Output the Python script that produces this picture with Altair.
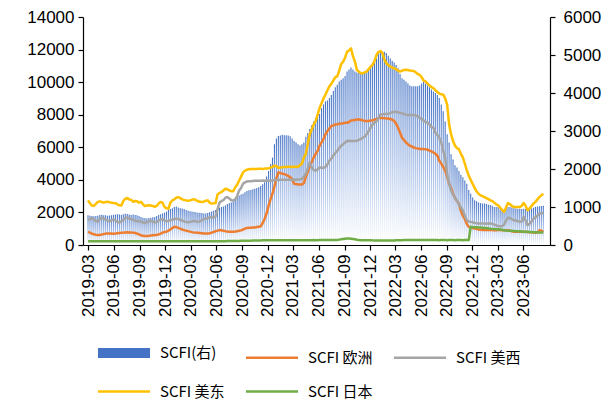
import altair as alt
import pandas as pd

# ---- weekly values (Fridays from 2019-03-01) ----
scfi = [
    # 2019
    780, 770, 760, 755, 765,  770, 790, 795, 785,  780, 770, 775, 785, 795,
    800, 810, 800, 790,  810, 820, 815, 800,  790, 800, 790, 780, 760,
    740, 720, 710, 700,  710, 720, 730, 740,  760, 790, 810, 830, 850,
    880, 920, 950, 970,
    # 2020
    1000, 1010, 990, 970, 960,  950, 920, 900, 890,  880, 870, 860, 850,
    850, 840, 830, 830,  840, 860, 880, 900, 920,  950, 980, 1000, 1010,
    1040, 1080, 1100, 1120, 1150,  1200, 1260, 1300, 1330,  1350, 1390, 1420, 1440,
    1450, 1470, 1480, 1500, 1520,  1550, 1600, 1650, 1800,  1950, 2130, 2300, 2650,
    # 2021
    2800, 2870, 2880, 2900, 2890,  2890, 2880, 2860, 2800,  2740, 2700, 2650, 2620,
    2650, 2700, 2850, 2950, 3050,  3150, 3250, 3350, 3400,  3450, 3600, 3700, 3780,
    3800, 3870, 3950, 4050, 4150,  4220, 4300, 4350, 4390,  4450, 4565, 4620, 4670,
    4620, 4565, 4540, 4530, 4520,  4520, 4550, 4580, 4620,  4650, 4720, 4800, 4910, 5050,
    # 2022
    5105, 5090, 5087, 5050,  4980, 4910, 4850, 4800,  4740, 4650, 4500, 4390,
    4350, 4300, 4250, 4200, 4175,  4175, 4180, 4175, 4200,  4250, 4305, 4250, 4200,
    4150, 4090, 4040, 4000, 3950,  3870, 3700, 3520, 3250,  2915, 2700, 2390, 2250, 2100,
    2040, 1950, 1850, 1780,  1700, 1610, 1450, 1350,  1250, 1175, 1150, 1120, 1100,
    # 2023
    1090, 1090, 1080, 1060,  1050, 1030, 1000, 1000,  1000, 940, 910, 920, 960,
    1000, 1000, 990, 970,  960, 955, 955, 950,  955, 950, 950, 955, 960,
    980, 1000, 1010, 1020,  1025, 1030,
]

europe = [
    # 2019
    810, 760, 700, 660, 630,  610, 620, 640, 670,  700, 710, 710, 700, 690,
    700, 720, 740, 750,  760, 770, 780, 770,  770, 760, 740, 700, 650,
    600, 570, 550, 560,  560, 580, 600, 610,  620, 650, 700, 760, 800,
    820, 880, 960, 1050,
    # 2020
    1115, 1100, 1050, 1000, 950,  915, 880, 850, 820,  790, 770, 760, 750,
    740, 720, 700, 700,  710, 720, 760, 800, 850,  880, 915, 900, 880,
    850, 830, 820, 810, 820,  830, 850, 870, 900,  950, 1000, 1050, 1055,
    1060, 1070, 1080, 1100, 1115,  1150, 1350, 1600, 1950,  2400, 2800, 3150, 3600,
    # 2021
    4100, 4460, 4420, 4380, 4360,  4300, 4250, 4160, 4050,  3760, 3740, 3720, 3710,
    3710, 3800, 4200, 4500, 4800,  5100, 5370, 5600, 5780,  6100, 6300, 6500, 6800,
    7000, 7150, 7305, 7350, 7400,  7420, 7445, 7460, 7480,  7500, 7505, 7550, 7650,
    7660, 7680, 7700, 7710, 7690,  7650, 7620, 7610, 7620,  7640, 7650, 7700, 7750, 7800,
    # 2022
    7810, 7800, 7790, 7770,  7770, 7740, 7700, 7610,  7450, 7200, 6900, 6590,
    6450, 6300, 6190, 6100, 6050,  5985, 5950, 5920, 5900,  5900, 5890, 5885, 5850,
    5800, 5750, 5680, 5600, 5500,  5175, 5000, 4800, 4565,  4200, 3755, 3500, 3145, 2900,
    2700, 2540, 2100, 1800,  1600, 1300, 1115, 1080,  1040, 1015, 990, 950, 930,
    # 2023
    920, 915, 915, 915,  915, 915, 910, 910,  915, 915, 910, 905, 900,
    900, 880, 840, 820,  810, 810, 810, 810,  810, 800, 800, 790, 780,
    770, 750, 760, 900,  880, 810,
]

us_west = [
    # 2019
    1520, 1600, 1650, 1560, 1480,  1430, 1600, 1680, 1620,  1560, 1500, 1450, 1520, 1580,
    1500, 1420, 1380, 1450,  1550, 1650, 1700, 1620,  1600, 1550, 1500, 1450, 1480,
    1420, 1380, 1350, 1400,  1450, 1500, 1450, 1380,  1420, 1500, 1560, 1600, 1500,
    1450, 1480, 1520, 1560,
    # 2020
    1600, 1620, 1600, 1550, 1500,  1450, 1420, 1400, 1420,  1450, 1480, 1450, 1420,
    1450, 1520, 1600, 1620,  1650, 1700, 1720, 1700, 1750,  2200, 2600, 2700, 2750,
    2900, 2940, 2850, 2750, 2740,  2800, 3000, 3350, 3500,  3760, 3850, 3900, 3915,
    3920, 3930, 3940, 3950, 3950,  3950, 3960, 3950, 3960,  3960, 3950, 3960, 3970,
    # 2021
    3980, 3990, 4000, 4000, 4010,  4010, 4000, 4020, 4010,  4020, 4010, 4020, 4030,
    4050, 4200, 4400, 4700, 5070,  4800, 4600, 4565, 4650,  4770, 4750, 4730, 4800,
    4950, 5175, 5300, 5500, 5650,  5780, 5950, 6100, 6190,  6300, 6390, 6400, 6390,
    6390, 6380, 6400, 6450, 6500,  6590, 6650, 6800, 7000,  7200, 7410, 7500, 7610, 7800,
    # 2022
    8015, 8020, 8040, 8050,  8055, 8100, 8150, 8175,  8175, 8150, 8115, 8080,
    8050, 8000, 7975, 7975, 7980,  7975, 7950, 7900, 7810,  7750, 7650, 7550, 7505,
    7400, 7250, 7200, 6900, 6750,  6590, 6300, 5800, 5370,  4360, 3800, 3350, 3100, 2900,
    2740, 2500, 2300, 2130,  1800, 1520, 1450, 1420,  1400, 1360, 1330, 1320, 1320,
    # 2023
    1320, 1320, 1310, 1320,  1320, 1300, 1250, 1200,  1160, 1155, 1160, 1250, 1500,
    1685, 1650, 1580, 1520,  1500, 1470, 1420, 1450,  1725, 1500, 1220, 1300, 1450,
    1620, 1700, 1800, 1930,  1950, 1965,
]

us_east = [
    # 2019
    2740, 2560, 2420, 2400, 2520,  2650, 2680, 2640, 2600,  2640, 2660, 2620, 2600, 2580,
    2570, 2500, 2440, 2430,  2700, 2840, 2880, 2800,  2780, 2650, 2700, 2680, 2600,
    2650, 2500, 2390, 2420,  2440, 2430, 2400, 2350,  2400, 2550, 2640, 2600, 2330,
    2250, 2230, 2600, 2740,
    # 2020
    2800, 2900, 2940, 2880, 2800,  2760, 2740, 2720, 2740,  2780, 2820, 2760, 2700,
    2650, 2640, 2660, 2720,  2740, 2600, 2540, 2560, 2560,  3100, 3200, 3250, 3350,
    3450, 3420, 3350, 3300, 3300,  3550, 3700, 3960, 4200,  4460, 4565, 4620, 4650,
    4670, 4670, 4660, 4670, 4680,  4680, 4670, 4690, 4700,  4700, 4750, 4800, 4870,
    # 2021
    4850, 4730, 4760, 4780, 4790,  4790, 4810, 4800, 4790,  4800, 4810, 4800, 4900,
    5000, 5370, 5600, 6200, 6800,  7100, 7400, 7610, 8000,  8420, 8700, 9000, 9230,
    9500, 9740, 9900, 10100, 10300,  10350, 10700, 11100, 11260,  11500, 11870, 11950, 12070,
    11600, 11260, 10755, 10650, 10550,  10550, 10600, 10650, 10800,  10950, 11060, 11300, 11670, 11850,
    # 2022
    11910, 11800, 11400, 11160,  11050, 10960, 10900, 10850,  10800, 10700, 10650, 10700,
    10750, 10755, 10750, 10720, 10700,  10690, 10600, 10500, 10450,  10300, 10100, 10045, 9900,
    9800, 9700, 9635, 9500, 9400,  9300, 9250, 9230, 9000,  8625, 7410, 6800, 6390, 6100,
    5950, 5885, 5600, 5375,  5000, 4600, 4260, 4000,  3755, 3500, 3300, 3145, 3050,
    # 2023
    3000, 2940, 2880, 2820,  2740, 2700, 2600, 2500,  2435, 2300, 2150, 2030, 2300,
    2575, 2500, 2400, 2330,  2330, 2330, 2330, 2400,  2575, 2400, 2130, 2250, 2400,
    2540, 2650, 2800, 2940,  3050, 3145,
]

japan = [
    # 2019
    232, 230, 228, 230, 233,  231, 229, 230, 232,  230, 228, 230, 231, 233,
    230, 229, 230, 231,  232, 233, 231, 230,  229, 230, 232, 231, 230,
    228, 229, 230, 231,  230, 232, 233, 231,  230, 229, 230, 232, 233,
    234, 235, 233, 232,
    # 2020
    233, 232, 231, 230, 230,  229, 230, 231, 230,  229, 230, 230, 231,
    230, 229, 230, 231,  232, 231, 230, 232, 233,  232, 233, 234, 235,
    236, 238, 240, 242, 245,  248, 250, 252, 255,  258, 260, 262, 265,
    268, 270, 272, 275, 278,  280, 285, 290, 290,  290, 295, 290, 290,
    # 2021
    292, 295, 296, 294, 293,  292, 290, 291, 293,  294, 295, 296, 295,
    294, 296, 298, 297, 296,  298, 300, 299, 298,  300, 302, 301, 300,
    302, 304, 305, 303, 306,  310, 330, 350, 370,  390, 400, 400, 390,
    370, 350, 320, 300, 290,  290, 288, 287, 286,  285, 284, 283, 282, 280,
    # 2022
    278, 276, 275, 274,  273, 274, 276, 280,  285, 290, 295, 298,
    300, 301, 300, 302, 301,  300, 302, 301, 300,  301, 302, 303, 302,
    301, 300, 302, 301, 300,  299, 300, 301, 300,  299, 300, 301, 300, 299,
    300, 301, 300, 299,  300, 300, 300, 1115,  1100, 1095, 1090, 1080, 1070,
    # 2023
    1060, 1050, 1040, 1020,  1000, 990, 980, 970,  965, 950, 930, 910, 890,
    880, 870, 870, 860,  850, 850, 840, 830,  820, 815, 810, 800, 795,
    790, 785, 780, 775,  770, 770,
]

series_names = ["SCFI(右)", "SCFI 欧洲", "SCFI 美西", "SCFI 美东", "SCFI 日本"]
series_colors = ["#4472C4", "#ED7D31", "#A5A5A5", "#FFC000", "#70AD47"]
series_widths = [10, 2.5, 2.5, 2.5, 2.5]

tick_labels = [
    "2019-03", "2019-06", "2019-09", "2019-12", "2020-03", "2020-06",
    "2020-09", "2020-12", "2021-03", "2021-06", "2021-09", "2021-12",
    "2022-03", "2022-06", "2022-09", "2022-12", "2023-03", "2023-06",
]
left_ticks = [0, 2000, 4000, 6000, 8000, 10000, 12000, 14000]
right_ticks = [0, 1000, 2000, 3000, 4000, 5000, 6000]

# ---- tables ----
n = min(len(scfi), len(europe), len(us_west), len(us_east), len(japan))
dates = pd.date_range("2019-03-01", periods=n, freq="7D")

bars_df = pd.DataFrame({"date": dates, "value": scfi[:n]})
line_frames = []
for name, vals in zip(series_names[1:], [europe, us_west, us_east, japan]):
    line_frames.append(pd.DataFrame({"date": dates, "value": vals[:n], "series": name}))
lines_df = pd.concat(line_frames, ignore_index=True)

tick_values = [alt.DateTime(year=int(s[:4]), month=int(s[5:]), date=1) for s in tick_labels]
x_scale = alt.Scale(domain=[alt.DateTime(year=2019, month=3, date=1),
                            alt.DateTime(year=2023, month=8, date=17)])

AX_FONT = "Liberation Sans"

x_axis = alt.Axis(values=tick_values, format="%Y-%m", labelAngle=-90, title=None,
                  labelFontSize=17, labelFont=AX_FONT, tickSize=5, labelPadding=4,
                  labelOverlap=False, labelFlush=False, grid=False)

bar_gradient = alt.Gradient(
    gradient="linear",
    stops=[alt.GradientStop(color="#4472C4", offset=0),
           alt.GradientStop(color="#A9C0E8", offset=0.55),
           alt.GradientStop(color="#FFFFFF", offset=1)],
    x1=0, x2=0, y1=0, y2=1,
)

bars = alt.Chart(bars_df).mark_bar(size=1.1, color=bar_gradient).encode(
    x=alt.X("date:T", scale=x_scale, axis=x_axis),
    y=alt.Y("value:Q", scale=alt.Scale(domain=[0, 6000], nice=False),
            axis=alt.Axis(orient="right", values=right_ticks, format="d", title=None,
                          labelFontSize=17, labelFont=AX_FONT, tickSize=5,
                          labelPadding=8, labelFlush=False, grid=False)),
)

legend = alt.Legend(
    title=None, orient="none", legendX=10, legendY=326, columns=3,
    symbolType="M-1,0H9.4", symbolSize=100, labelOffset=47,
    labelFont="Noto Sans CJK SC", labelFontSize=15, labelColor="#000000",
    rowPadding=11, columnPadding=16, gridAlign="all", direction="horizontal",
)

lines = alt.Chart(lines_df).mark_line(strokeJoin="round").encode(
    x=alt.X("date:T", scale=x_scale, axis=x_axis),
    y=alt.Y("value:Q", scale=alt.Scale(domain=[0, 14000], nice=False),
            axis=alt.Axis(orient="left", values=left_ticks, format="d", title=None,
                          labelFontSize=17, labelFont=AX_FONT, tickSize=5,
                          labelPadding=4, labelFlush=False, grid=False)),
    stroke=alt.Stroke("series:N", scale=alt.Scale(domain=series_names, range=series_colors),
                      legend=legend),
    strokeWidth=alt.StrokeWidth("series:N",
                                scale=alt.Scale(type="ordinal", domain=series_names, range=series_widths),
                                legend=legend),
    detail="series:N",
)

chart = alt.layer(bars, lines).resolve_scale(y="independent").properties(
    width=467, height=228,
    autosize=alt.AutoSizeParams(type="none"),
    padding={"left": 75, "top": 9, "right": 58, "bottom": 155},
).configure_view(stroke=None).configure_axis(
    domainColor="#000000", tickColor="#000000", labelColor="#000000", domainWidth=1.2, tickWidth=1.2,
)

chart.save("out.html", embed_options={"renderer": "svg", "actions": False})
